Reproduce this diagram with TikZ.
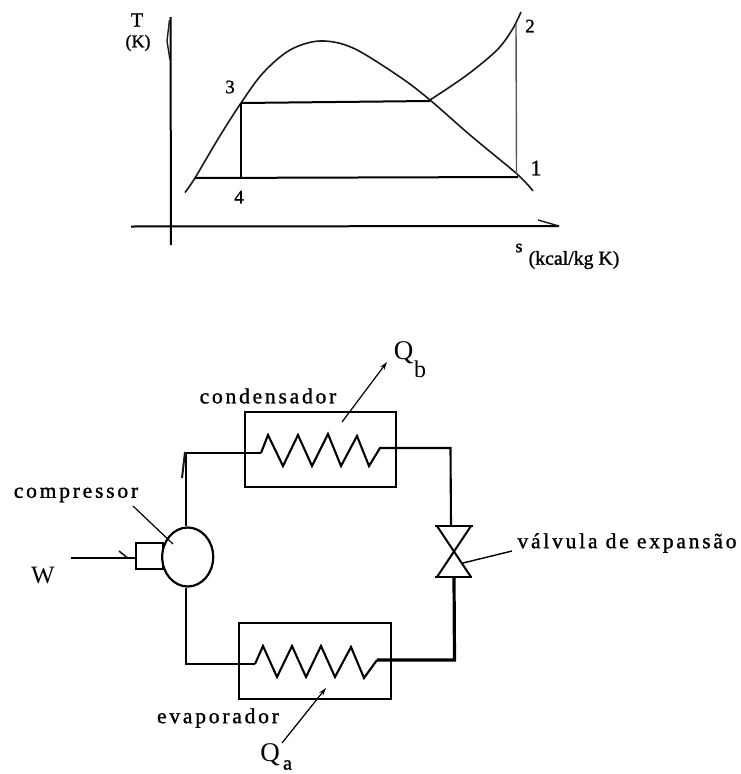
\documentclass[tikz,border=0pt]{standalone}
\usepackage{fontspec}
\setmainfont{Liberation Serif}
\newfontfamily\lab[LetterSpace=13,FakeBold=1.2]{Liberation Serif}
\newfontfamily\fat[FakeBold=1.2]{Liberation Serif}
\usetikzlibrary{arrows.meta,shapes.geometric}
\tikzset{
  thin line/.style={line width=1.4pt,black!90},
  med line/.style={line width=2pt,black},
  pipe/.style={line width=2.1pt,black,line join=miter},
  thick pipe/.style={line width=3.2pt,black},
  unit/.style={draw,line width=2.2pt,inner sep=0pt},
  leader/.style={line width=1.2pt,black},
  label/.style={inner sep=0pt,font=\fontsize{21.5}{21.5}\selectfont\lab},
  graphnum/.style={inner sep=0pt,font=\fontsize{19}{19}\selectfont\fat},
  small/.style={inner sep=0pt,font=\fontsize{18}{18}\selectfont\fat},
  big/.style={inner sep=0pt,font=\fontsize{27}{27}\selectfont},
  headed/.style={leader,-{Stealth[length=8pt,width=5pt]}},
}
\begin{document}
\begin{tikzpicture}[x=1pt,y=-1pt]
\useasboundingbox[fill=white] (0,0) rectangle (740,774);
% T-s diagram points
\coordinate (Ttop) at (170.5,17);
\coordinate (Tbot) at (171,245);
\coordinate (sleft) at (131,226.5);
\coordinate (sright) at (559,226);
\coordinate (p3) at (241,103);
\coordinate (p4) at (241,177.5);
\coordinate (pc) at (430,101);
\coordinate (p1) at (518,177);
\coordinate (p1t) at (516.5,174);
\coordinate (p2) at (516,23);
\coordinate (pl) at (195,178);
\draw[med line] (Ttop) -- (Tbot);
\draw[med line] (sleft) -- (sright);
\coordinate (sbarb) at (538,220);
\draw[thin line] (sbarb) -- (sright);
\coordinate (tb1) at (169.5,20);
\coordinate (tb2) at (167,41);
\coordinate (tb3) at (170,60);
\draw[thin line] (tb1) -- (tb2) -- (tb3);
\draw[thin line,line width=1.6pt] plot[smooth,tension=0.55] coordinates {(185,192.5) (195,178) (218,139) (241,103) (263,73) (290,50) (320,41) (353,48) (400,77) (430,100) (470,135) (517,174) (533,191)};
\draw[thin line,line width=1.6pt] plot[smooth,tension=0.55] coordinates {(430,100) (467,75) (497,50) (512,30) (521,12)};
\draw[med line] (p3) -- (pc);
\draw[med line] (p3) -- (p4);
\draw[med line] (pl) -- (p1);
\draw[line width=1.4pt,black!65] (p2) -- (p1t);
\node[small,font=\fontsize{20}{20}\selectfont\fat] (tT) at (137,20) {T};
\node[small] (tK) at (138,43) {(K)};
\node[graphnum] (n3) at (230,87) {3};
\node[graphnum] (n2) at (530,26) {2};
\node[graphnum,font=\fontsize{22}{22}\selectfont\fat] (n1) at (536,168) {1};
\node[graphnum] (n4) at (239,197) {4};
\node[small] (ns) at (519,248) {s};
\node[small,font=\fontsize{19.8}{19.8}\selectfont\fat] (nu) at (574,260) {(kcal/kg K)};
% Cycle units
\node[unit,minimum width=151pt,minimum height=75pt] (cond) at (320.5,449.5) {};
\node[unit,minimum width=152pt,minimum height=76pt] (evap) at (315,661) {};
\node[unit,minimum width=27pt,minimum height=26pt] (motor) at (149.5,556) {};
\node[unit,ellipse,minimum width=51pt,minimum height=59pt,fill=white] (comp) at (187.7,557) {};
% Valve
\coordinate (vtl) at (435,525.5);
\coordinate (vtr) at (473,525.5);
\coordinate (vbl) at (435,577);
\coordinate (vbr) at (472,577);
\coordinate (vtin) at (451,525.5);
\coordinate (vbin) at (454,577);
\draw[med line] (vtl) -- (vtr);
\draw[med line,line width=2.6pt] (vbl) -- (vbr);
\coordinate (x1) at (437,526);
\coordinate (x2) at (471,577);
\coordinate (x3) at (471,526);
\coordinate (x4) at (437,577);
\draw[med line] (x1) -- (x2);
\draw[med line] (x3) -- (x4);
% Pipes
\coordinate (c1) at (186,453);
\coordinate (c2) at (261,453);
\coordinate (c3) at (380,448);
\coordinate (c4) at (450.5,448);
\coordinate (e1) at (186,664);
\coordinate (e2) at (255,664);
\coordinate (e3) at (377,660);
\coordinate (e4) at (454.5,660);
\draw[pipe] (comp.north -| c1) -- (c1) -- (c2);
\draw[pipe] (c2) -- (268,435) -- (283,466) -- (298,435) -- (312,466) -- (328,434) -- (341,466) -- (357,436) -- (369,466) -- (c3) -- (c4) -- (vtin);
\draw[pipe] (comp.south -| e1) -- (e1) -- (e2);
\draw[pipe] (e2) -- (263,646) -- (277,677) -- (292,646) -- (306,677) -- (321,646) -- (335,677) -- (351,647) -- (364,678) -- (e3);
\draw[thick pipe] (e3) -- (e4) -- (vbin);
\coordinate (w) at (71,558);
\draw[pipe] (w) -- (motor.west |- w);
\coordinate (wb) at (119,551);
\coordinate (wc) at (127,557.5);
\draw[thin line,line width=1.6pt] (wb) -- (wc);
\coordinate (fb) at (185,452);
\coordinate (fc) at (182,478);
\draw[thin line,line width=2pt] (fb) -- (fc);
% Labels
\node[label] (tcomp) at (76,495) {compressor};
\node[label] (tcond) at (268,396) {condensador};
\node[label] (tevap) at (218,718) {evaporador};
\node[label] (tval) at (627,543) {válvula de expansão};
\node[big,font=\fontsize{25}{25}\selectfont] (tW) at (43,575) {W};
\node[big] (tQb) at (403.5,353) {Q};
\node[inner sep=0pt,font=\fontsize{24}{24}\selectfont] (tb) at (420,369.5) {b};
\node[big] (tQa) at (270,755) {Q};
\node[inner sep=0pt,font=\fontsize{20}{20}\selectfont\fat] (ta) at (287.5,765) {a};
% Leaders
\coordinate (l1a) at (133,506);
\coordinate (l1b) at (173,544);
\draw[leader] (l1a) -- (l1b);
\coordinate (l2a) at (342,422);
\coordinate (l2b) at (387,362);
\draw[headed] (l2a) -- (l2b);
\coordinate (l3a) at (282,743);
\coordinate (l3b) at (326,688);
\draw[headed] (l3a) -- (l3b);
\coordinate (l4a) at (512,551);
\coordinate (l4b) at (463,563);
\draw[leader,line width=1.4pt] (l4a) -- (l4b);
\end{tikzpicture}
\end{document}
